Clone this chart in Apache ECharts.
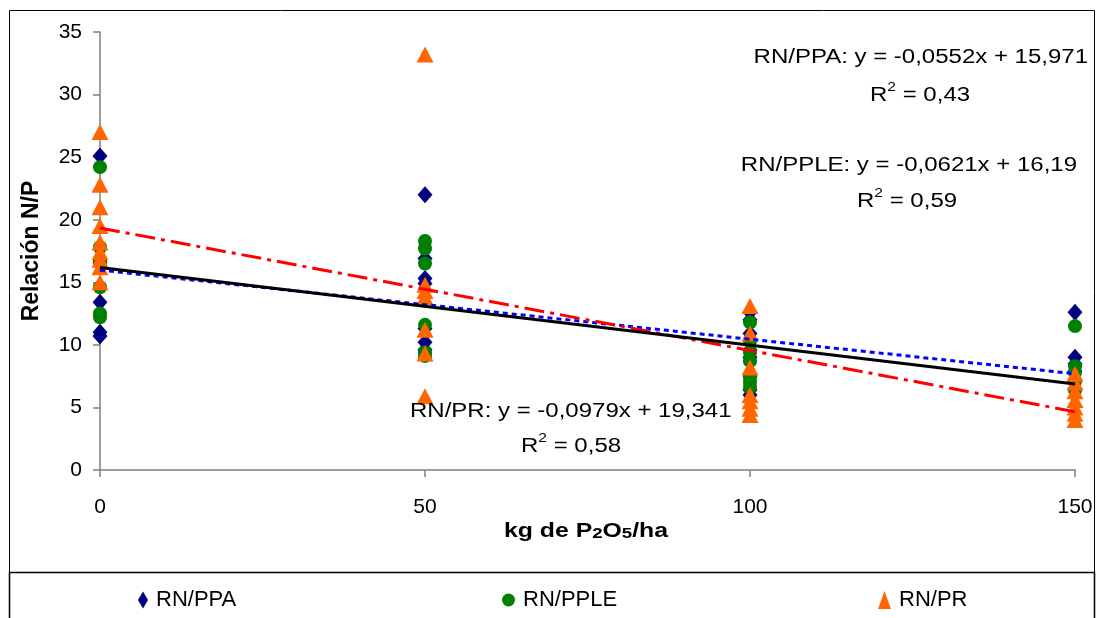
<!DOCTYPE html>
<html>
<head>
<meta charset="utf-8">
<script src="https://cdn.jsdelivr.net/npm/echarts@6/dist/echarts.min.js"></script>
<style>
  html, body { margin: 0; padding: 0; background: #fff; }
  #chart { width: 1098px; height: 618px; }
</style>
</head>
<body>
<div id="chart"></div>
<script>
// Dosis de fósforo (kg de P2O5/ha)
const doses = [0, 50, 100, 150];

// Relación N/P observada en cada dosis
const ppaValues = [
  [25.1, 16.6, 13.4, 11.0, 10.7],
  [22.0, 16.9, 15.3, 14.9, 11.3, 10.2, 9.6],
  [12.6, 12.0, 10.9, 9.6, 9.0, 7.5, 6.4, 6.0],
  [12.6, 9.0, 8.5, 7.9, 7.2, 6.5]
];
const ppleValues = [
  [24.2, 17.8, 16.6, 14.6, 12.5, 12.2],
  [18.3, 17.7, 16.5, 11.6, 9.4, 9.1],
  [11.8, 10.3, 9.4, 8.7, 7.4, 7.0, 6.6],
  [11.5, 8.3, 7.8, 7.1, 6.4]
];
const prValues = [
  [27.0, 22.8, 21.0, 19.5, 18.2, 17.4, 16.8, 16.2, 15.0],
  [33.2, 14.8, 14.3, 13.8, 11.2, 9.3, 5.9],
  [13.1, 10.9, 8.2, 6.0, 5.5, 4.9, 4.4],
  [7.7, 7.0, 6.3, 5.6, 5.0, 4.5, 4.0]
];

// Líneas de tendencia lineales: y = a·x + b
const seriesNames = ['RN/PPA', 'RN/PPLE', 'RN/PR'];
const trendSlopes = [-0.0552, -0.0621, -0.0979];
const trendIntercepts = [15.971, 16.19, 19.341];
const trendR2 = ['0,43', '0,59', '0,58'];
const trendLabels = ['-0,0552x + 15,971', '-0,0621x + 16,19', '-0,0979x + 19,341'];

const yTicks = [0, 35, 5];   // min, max, interval
const xTicks = [0, 150, 50];

const FONT = '"Liberation Sans", Arial, sans-serif';
const STRETCH = 1.2;   // texto ensanchado horizontalmente

function toPoints(groups) {
  const pts = [];
  groups.forEach((vals, i) => vals.forEach(v => pts.push([doses[i], v])));
  return pts;
}
function trendLine(k) {
  const x0 = xTicks[0], x1 = xTicks[1];
  return [[x0, trendIntercepts[k] + trendSlopes[k] * x0],
          [x1, trendIntercepts[k] + trendSlopes[k] * x1]];
}

const chart = echarts.init(document.getElementById('chart'), null, { renderer: 'canvas' });

const axisGray = '#808080';

function eqText(k, x, y, align) {
  return {
    type: 'text', z: 100, x: x, y: y, scaleX: STRETCH, scaleY: 1,
    style: {
      text: seriesNames[k] + ': y = ' + trendLabels[k],
      font: '20px ' + FONT, fill: '#000',
      align: align, verticalAlign: 'middle'
    }
  };
}
function r2Text(k, x, y) {
  return {
    type: 'text', z: 100, x: x, y: y, scaleX: STRETCH, scaleY: 1,
    style: {
      text: '{a|R}{s|2}{a| = ' + trendR2[k] + '}',
      align: 'left', verticalAlign: 'middle',
      rich: {
        a: { fontSize: 20, fontFamily: FONT, fill: '#000', verticalAlign: 'bottom', lineHeight: 24 },
        s: { fontSize: 13, fontFamily: FONT, fill: '#000', verticalAlign: 'top', lineHeight: 24 }
      }
    }
  };
}

const legendCommon = {
  top: 589,
  padding: 0,
  itemGap: 0,
  textStyle: { fontSize: 22, fontFamily: FONT, color: '#000', padding: [0, 0, 0, 3] },
  selectedMode: false
};

chart.setOption({
  animation: false,
  backgroundColor: '#fff',
  grid: { left: 100, right: 23, top: 32, bottom: 148 },
  xAxis: {
    type: 'value',
    min: xTicks[0], max: xTicks[1], interval: xTicks[2],
    axisLine: { show: true, onZero: false, lineStyle: { color: axisGray, width: 1.5 } },
    axisTick: { show: true, length: 7, lineStyle: { color: axisGray, width: 1.5 } },
    axisLabel: { color: '#000', fontSize: 21, fontFamily: FONT, margin: 27 },
    splitLine: { show: false }
  },
  yAxis: {
    type: 'value',
    min: yTicks[0], max: yTicks[1], interval: yTicks[2],
    axisLine: { show: true, lineStyle: { color: axisGray, width: 1.5 } },
    axisTick: { show: true, length: 7, lineStyle: { color: axisGray, width: 1.5 } },
    axisLabel: { color: '#000', fontSize: 21, fontFamily: FONT, margin: 18 },
    splitLine: { show: false }
  },
  legend: [
    Object.assign({ left: 138, data: [seriesNames[0]], itemWidth: 10, itemHeight: 17 }, legendCommon),
    Object.assign({ left: 502, data: [seriesNames[1]], itemWidth: 13, itemHeight: 16 }, legendCommon),
    Object.assign({ left: 878, data: [seriesNames[2]], itemWidth: 13, itemHeight: 18 }, legendCommon)
  ],
  series: [
    {
      name: seriesNames[0], type: 'scatter', symbol: 'diamond', symbolSize: [15, 17],
      itemStyle: { color: '#000080', opacity: 1 }, data: toPoints(ppaValues), z: 3
    },
    {
      name: seriesNames[1], type: 'scatter', symbol: 'circle', symbolSize: 14,
      itemStyle: { color: '#008000', opacity: 1 }, data: toPoints(ppleValues), z: 4
    },
    {
      name: seriesNames[2], type: 'scatter', symbol: 'triangle', symbolSize: [17, 16],
      itemStyle: { color: '#FF6600', opacity: 1 }, data: toPoints(prValues), z: 5
    },
    {
      name: 'trend-ppa', type: 'line', data: trendLine(0), symbol: 'none', z: 10,
      lineStyle: { color: '#0000FF', width: 3, type: [5, 4] }
    },
    {
      name: 'trend-pple', type: 'line', data: trendLine(1), symbol: 'none', z: 11,
      lineStyle: { color: '#000000', width: 3, type: 'solid' }
    },
    {
      name: 'trend-pr', type: 'line', data: trendLine(2), symbol: 'none', z: 10,
      lineStyle: { color: '#FF0000', width: 3, type: [20, 6, 4, 6] }
    }
  ],
  graphic: [
    // marco del área del gráfico y del cuadro de leyenda
    { type: 'rect', z: 0, silent: true,
      shape: { x: 9.5, y: 10.5, width: 1085, height: 562 },
      style: { fill: null, stroke: '#000', lineWidth: 1 } },
    { type: 'rect', z: 0, silent: true,
      shape: { x: 9.5, y: 572.5, width: 1085, height: 60 },
      style: { fill: null, stroke: '#000', lineWidth: 1.5 } },
    // títulos de los ejes
    { type: 'text', z: 100, x: 32, y: 251, rotation: Math.PI / 2,
      style: { text: 'Relación N/P', font: 'bold 23px ' + FONT, fill: '#000',
               align: 'center', verticalAlign: 'middle' } },
    { type: 'text', z: 100, x: 586, y: 530, scaleX: 1.24, scaleY: 1,
      style: {
        text: '{b|kg de P}{s|2}{b|O}{s|5}{b|/ha}',
        align: 'center', verticalAlign: 'middle',
        rich: {
          b: { fontSize: 20, fontWeight: 'bold', fontFamily: FONT, fill: '#000', verticalAlign: 'bottom', lineHeight: 22 },
          s: { fontSize: 15, fontWeight: 'bold', fontFamily: FONT, fill: '#000', verticalAlign: 'bottom', lineHeight: 22 }
        }
      } },
    // ecuaciones de las líneas de tendencia
    eqText(0, 1088, 57, 'right'),
    r2Text(0, 870, 93),
    eqText(1, 1077, 165, 'right'),
    r2Text(1, 857, 199),
    eqText(2, 410, 411, 'left'),
    r2Text(2, 521, 444)
  ]
});
</script>
</body>
</html>
